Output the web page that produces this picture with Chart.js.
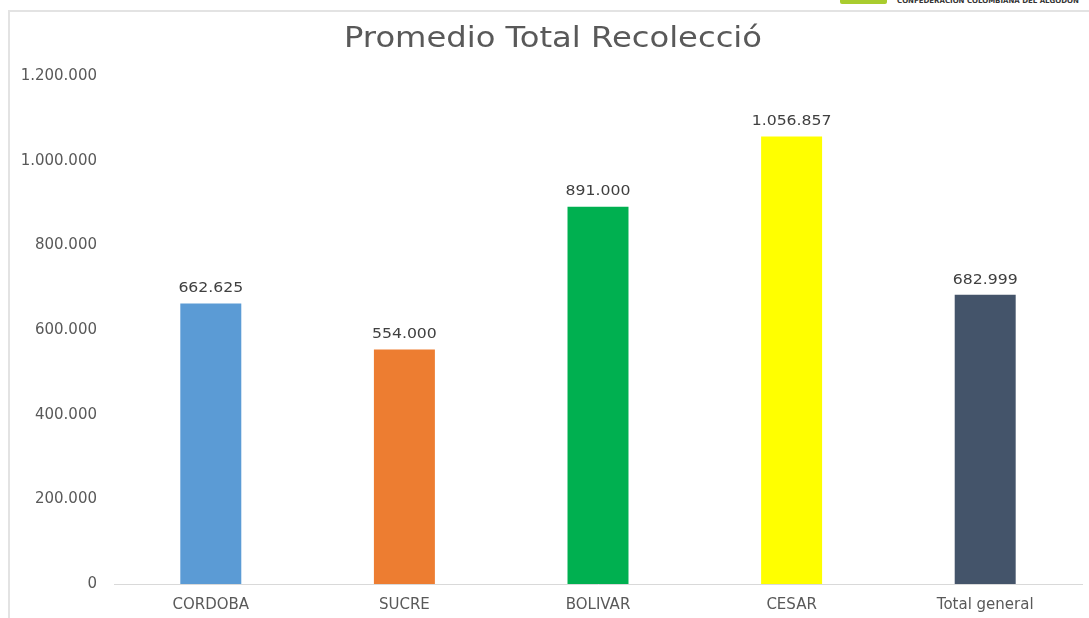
<!DOCTYPE html>
<html>
<head>
<meta charset="utf-8">
<script src="https://cdn.jsdelivr.net/npm/chart.js@4"></script>
<style>
  html, body { margin: 0; padding: 0; background: #fff; overflow: hidden; }
  #wrap { position: relative; width: 1089px; height: 618px; }
  #frame { position: absolute; left: 8px; top: 10px; width: 1089px; height: 620px;
           border-left: 2px solid #e3e3e3; border-top: 2px solid #e3e3e3; }
  #logo { position: absolute; left: 840px; top: 0; width: 249px; height: 7px; overflow: hidden; }
  #logo .mark { position: absolute; left: 0; top: -4px; width: 47px; height: 8px; background: #a9cc2e; border-radius: 2px; }
  #logo .txt { position: absolute; left: 57px; top: -3px; font: bold 7px "DejaVu Sans"; color: #333; white-space: nowrap; }
  canvas { position: absolute; left: 0; top: 0; }
</style>
</head>
<body>
<div id="wrap">
  <div id="frame"></div>
  <div id="logo"><div class="mark"></div><div class="txt">CONFEDERACIÓN COLOMBIANA DEL ALGODÓN</div></div>
  <canvas id="chart" width="1089" height="618"></canvas>
</div>
<script>
const categories = ['CORDOBA', 'SUCRE', 'BOLIVAR', 'CESAR', 'Total general'];
const promedio = [662625, 554000, 891000, 1056857, 682999];
const barColors = ['#5b9bd5', '#ed7d31', '#00b050', '#ffff00', '#44546a'];
const yTicks = [0, 200000, 400000, 600000, 800000, 1000000, 1200000];
const chartTitle = 'Promedio Total Recolecció';

function puntos(v) {
    return String(v).replace(/\B(?=(\d{3})+(?!\d))/g, '.');
}

// titulo y etiquetas de datos (el original esta un poco estirado a lo ancho)
const labelsPlugin = {
    id: 'etiquetas',
    afterDatasetsDraw(chart) {
        const ctx = chart.ctx;
        ctx.save();
        ctx.translate(553, 40);
        ctx.scale(1.15, 1);
        ctx.font = '28px "DejaVu Sans"';
        ctx.fillStyle = '#595959';
        ctx.textAlign = 'center';
        ctx.textBaseline = 'middle';
        ctx.fillText(chartTitle, 0, 0);
        ctx.restore();

        ctx.save();
        ctx.font = '14px "DejaVu Sans"';
        ctx.fillStyle = '#404040';
        ctx.textAlign = 'center';
        ctx.textBaseline = 'bottom';
        chart.getDatasetMeta(0).data.forEach((bar, i) => {
            ctx.save();
            ctx.translate(bar.x, bar.y - 8);
            ctx.scale(1.12, 1);
            ctx.fillText(puntos(promedio[i]), 0, 0);
            ctx.restore();
        });
        ctx.restore();
    }
};

new Chart(document.getElementById('chart'), {
    type: 'bar',
    data: {
        labels: categories,
        datasets: [{
            data: promedio,
            backgroundColor: barColors,
            barPercentage: 0.63,
            categoryPercentage: 0.5
        }]
    },
    options: {
        responsive: false,
        animation: false,
        layout: { padding: { top: 76, right: 7, left: 0, bottom: 0 } },
        plugins: { legend: { display: false }, tooltip: { enabled: false } },
        scales: {
            x: {
                grid: { display: false, drawTicks: false },
                border: { color: '#d9d9d9', width: 1 },
                ticks: { color: '#595959', font: { family: 'DejaVu Sans', size: 15 }, padding: 12 },
                afterFit(scale) { scale.height = 34; }
            },
            y: {
                min: 0,
                max: 1200000,
                grid: { display: false, drawTicks: false },
                border: { display: false },
                afterBuildTicks(scale) { scale.ticks = yTicks.map(v => ({ value: v })); },
                ticks: {
                    color: '#595959',
                    font: { family: 'DejaVu Sans', size: 15 },
                    padding: 17,
                    callback: v => puntos(v)
                },
                afterFit(scale) { scale.width = 114; }
            }
        }
    },
    plugins: [labelsPlugin]
});
</script>
</body>
</html>
